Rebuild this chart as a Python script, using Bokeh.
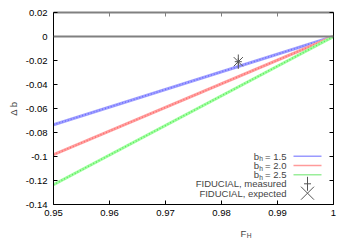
import math
from bokeh.plotting import figure
from bokeh.layouts import column
from bokeh.models import (Range1d, FixedTicker, LinearAxis, Label, Span, Arrow)
from bokeh.embed import file_html
from bokeh.resources import INLINE

# ---- data ----
fh_ends = [0.95, 1.0]
db_bh15 = [-0.0735, 0.0]
db_bh20 = [-0.0985, 0.0]
db_bh25 = [-0.1235, 0.0]
bh_labels = ["1.5", "2.0", "2.5"]

fid_meas_x = [0.983]
fid_meas_y = [-0.021]
fid_meas_err = [0.006]
fid_exp_x = [0.983]
fid_exp_y = [-0.021]

x_ticks = [0.95, 0.96, 0.97, 0.98, 0.99, 1.0]
x_tick_labels = ["0.95", "0.96", "0.97", "0.98", "0.99", "1"]
y_ticks = [-0.14, -0.12, -0.1, -0.08, -0.06, -0.04, -0.02, 0.0, 0.02]
y_tick_labels = ["-0.14", "-0.12", "-0.1", "-0.08", "-0.06", "-0.04", "-0.02", "0", "0.02"]

FONT = "Liberation Sans"
FS = "9.5px"
W = 350

p = figure(width=W, height=222, output_backend="svg", toolbar_location=None,
           x_range=Range1d(0.95, 1.0), y_range=Range1d(-0.14, 0.02),
           x_axis_type=None, y_axis_type=None,
           min_border_left=53, min_border_right=17, min_border_top=12, min_border_bottom=18)
p.outline_line_color = None
p.background_fill_color = "white"
p.border_fill_color = "white"

def make_axis(ticks, labels, show_labels, color="black", width=1):
    ax = LinearAxis(ticker=FixedTicker(ticks=ticks))
    ax.major_tick_in = 4
    ax.major_tick_out = 0
    ax.minor_tick_line_color = None
    ax.axis_line_color = color
    ax.axis_line_width = width
    ax.major_tick_line_color = color
    ax.major_label_text_font = FONT
    ax.major_label_text_color = "black"
    if show_labels:
        ax.major_label_overrides = {t: l for t, l in zip(ticks, labels)}
        ax.major_label_text_font_size = FS
    else:
        ax.major_label_overrides = {t: "" for t in ticks}
        ax.major_label_text_font_size = "1px"
        ax.major_label_standoff = 0
    return ax

bottom = make_axis(x_ticks, x_tick_labels, True)
bottom.major_label_standoff = 5
left = make_axis(y_ticks, y_tick_labels, True)
left.major_label_standoff = 6
left.axis_label = "Δ b"
left.axis_label_text_font = FONT
left.axis_label_text_font_size = FS
left.axis_label_text_font_style = "normal"
left.axis_label_standoff = 4
top = make_axis(x_ticks, x_tick_labels, False, color="#808080", width=2)
right = make_axis(y_ticks, y_tick_labels, False)
p.add_layout(bottom, "below")
p.add_layout(left, "left")
p.add_layout(top, "above")
p.add_layout(right, "right")

p.add_layout(Span(location=0, dimension="width", line_color="#808080", line_width=2))

series = [
    (db_bh15, "#a0a0ff", "#5a5aff"),
    (db_bh20, "#ffa0a0", "#ff5a5a"),
    (db_bh25, "#a0ffa0", "#45dc45"),
]
for ys, light, dark in series:
    p.line(fh_ends, ys, line_color=light, line_width=3)
    p.line(fh_ends, ys, line_color=dark, line_width=1.5, line_dash="1 2", line_alpha=0.75)

# fiducial
p.segment(x0=fid_meas_x, y0=[y - e for y, e in zip(fid_meas_y, fid_meas_err)],
          x1=fid_meas_x, y1=[y + e for y, e in zip(fid_meas_y, fid_meas_err)],
          line_color="#555555", line_width=1)
p.scatter(fid_meas_x, fid_meas_y, marker="cross", size=7, line_color="#555555", line_width=1)
p.scatter(fid_exp_x, fid_exp_y, marker="x", size=13, line_color="#555555", line_width=1)

# legend (screen units relative to frame bottom-left)
TX = 233
rows = [48.3, 39.0, 29.7, 20.7, 11.3]
leg_colors = ["#9a9aff", "#ff9a9a", "#9aee9a"]
for i, lab in enumerate(bh_labels):
    y = rows[i]
    p.add_layout(Label(x=TX, y=y, x_units="screen", y_units="screen", text="= " + lab,
                       text_font=FONT, text_font_size=FS, text_baseline="middle", text_align="right"))
    p.add_layout(Label(x=TX - 23.5, y=y - 2.5, x_units="screen", y_units="screen", text="h",
                       text_font=FONT, text_font_size="6.7px", text_baseline="middle", text_align="right"))
    p.add_layout(Label(x=TX - 27.4, y=y, x_units="screen", y_units="screen", text="b",
                       text_font=FONT, text_font_size=FS, text_baseline="middle", text_align="right"))
    p.add_layout(Arrow(end=None, x_start=240, y_start=y, x_end=268, y_end=y,
                       start_units="screen", end_units="screen",
                       line_color=leg_colors[i], line_width=1.5))

for txt, y in [("FIDUCIAL, measured", rows[3]), ("FIDUCIAL, expected", rows[4])]:
    p.add_layout(Label(x=TX, y=y, x_units="screen", y_units="screen", text=txt,
                       text_font=FONT, text_font_size=FS, text_baseline="middle", text_align="right"))

mx = 254
p.add_layout(Arrow(end=None, x_start=mx, y_start=rows[3] - 7, x_end=mx, y_end=rows[3] + 7,
                   start_units="screen", end_units="screen", line_color="#555555", line_width=1))
p.add_layout(Arrow(end=None, x_start=mx - 3.5, y_start=rows[3], x_end=mx + 3.5, y_end=rows[3],
                   start_units="screen", end_units="screen", line_color="#555555", line_width=1))
p.add_layout(Arrow(end=None, x_start=mx - 6.5, y_start=rows[4] - 6.5, x_end=mx + 6.5, y_end=rows[4] + 6.5,
                   start_units="screen", end_units="screen", line_color="#555555", line_width=1))
p.add_layout(Arrow(end=None, x_start=mx - 6.5, y_start=rows[4] + 6.5, x_end=mx + 6.5, y_end=rows[4] - 6.5,
                   start_units="screen", end_units="screen", line_color="#555555", line_width=1))

# x-axis title strip
q = figure(width=W, height=23, output_backend="svg", toolbar_location=None,
           x_axis_type=None, y_axis_type=None,
           min_border_left=0, min_border_right=0, min_border_top=0, min_border_bottom=0)
q.outline_line_color = None
q.grid.visible = False
q.background_fill_color = "white"
q.border_fill_color = "white"
q.add_layout(Label(x=187, y=12.3, x_units="screen", y_units="screen", text="F",
                   text_font=FONT, text_font_size=FS, text_baseline="middle", text_align="left"))
q.add_layout(Label(x=193.3, y=9.8, x_units="screen", y_units="screen", text="H",
                   text_font=FONT, text_font_size="6.7px", text_baseline="middle", text_align="left"))

layout = column(p, q, spacing=0)
open("out.html", "w").write(file_html(layout, INLINE))
